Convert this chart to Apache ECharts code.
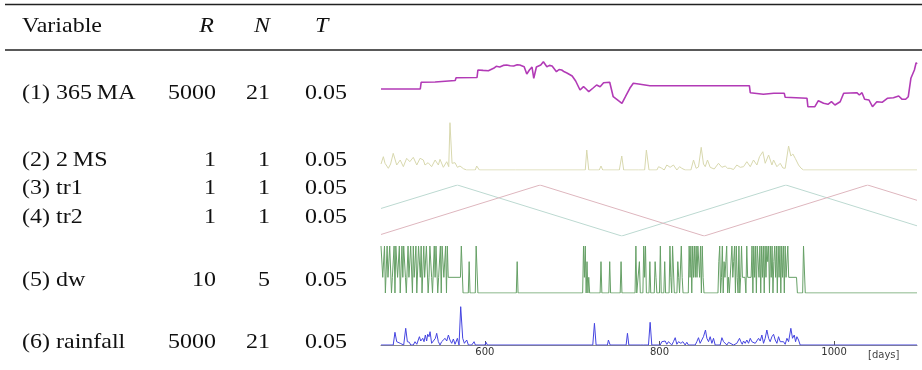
<!DOCTYPE html>
<html>
<head>
<meta charset="utf-8">
<title>Variables</title>
<script src="https://cdn.jsdelivr.net/npm/echarts@6/dist/echarts.min.js"></script>
<style>
  html, body { margin: 0; padding: 0; background: #fff; }
  #main { width: 922px; height: 370px; }
</style>
</head>
<body>
<div id="main"></div>
<script>
// table
const rowNames = ['(1) 365\u2009MA', '(2) 2\u2009MS', '(3) tr1', '(4) tr2', '(5) dw', '(6) rainfall']
const rowR = ['5000', '1', '1', '1', '10', '5000']
const rowN = ['21', '1', '1', '1', '5', '21']
const rowT = ['0.05', '0.05', '0.05', '0.05', '0.05', '0.05']
const dayTicks = [600, 800, 1000]

// series, [day, value]
const ma365 = [[481,21],[526,21],[527,27.7],[543,28],[545,29.3],[566,29.5],[567,32.3],[591,32.5],[592,40],
  [598,39.6],[604,39.3],[610,41.7],[613,43.7],[617,43],[621,44.6],[625,45],[629,44.2],[633,44],[637,45.2],
  [640,45],[645,43.3],[648,36],[651,40],[654,43],[656,31.7],[659,43],[664,45],[667,48.3],[671,43.3],
  [674,44.6],[677,44],[682,38.3],[685,40.5],[688,40],[691,38.2],[694,37],[700,34],[704,29],[709,20],
  [713,23.3],[716,21],[719,18.3],[724,22],[728,25],[732,23.3],[736,27.3],[743,27.7],[747,13.3],[753,9.3],
  [757,6.7],[761,13.3],[766,21.7],[770,26.7],[776,26],[789,24.3],[903,24.3],[904,17.3],[919,15.7],
  [931,16.7],[943,16.7],[944,12.7],[969,11.7],[970,3.3],[978,3.3],[982,9.3],[988,6.7],[993,5.7],
  [997,8.3],[1001,5],[1007,8.3],[1011,16.7],[1026,17.3],[1029,15],[1032,17.3],[1035,10.7],[1040,10],
  [1044,3.3],[1049,8.3],[1055,7.7],[1061,11.7],[1068,12.3],[1074,14],[1078,10.7],[1082,10.7],[1085,13.3],
  [1088,31.7],[1092,40],[1094,47.3],[1095,46]]

const ms2 = [[481,6],[483.7,13.3],[485.6,6.7],[489.4,1.7],[492,6],[495,16.7],[499,5],[503,10],[506.6,3.3],
  [510.4,11.7],[514,8.3],[518,12.7],[522,5],[525.7,11.7],[529.5,10],[531.4,5],[535,7.3],[539,3.3],[543,10],
  [546.7,5],[548.6,10.7],[552.4,2.7],[556.3,8.3],[558.6,3.3],[560,47.3],[562.4,6.7],[565.8,7.3],[568.5,2.7],
  [571.5,4],[575.4,1.3],[579,0],[589,0],[590.6,4],[593.7,0],[635,0],[636,1],[637,0],[715,0],[716.7,20],
  [719,0],[731,0],[733,4],[735,0],[754,0],[756.8,14],[759,0],[772,0],[774,1.7],[776,0],[783,0],[785,20],
  [788,0],[797,0],[799,3.3],[802.7,1.7],[805.4,0],[808.4,5],[812.2,2.7],[816,5],[819.9,0],[823,3.3],
  [825.6,1.7],[829.4,0],[836,0],[839,10],[842,1.7],[844.7,3],[847.8,22.7],[850.4,6],[852.4,3.3],[855,10],
  [858.1,2.7],[862.7,1],[867.6,6.7],[871.5,2.7],[875.3,4],[878,1.7],[881,1.7],[884.8,0.5],[888.6,5],
  [892.5,2.7],[896.3,3.3],[900.1,8.3],[904,3.3],[907.7,10],[911.6,5],[914.6,13.3],[918.4,18.3],[921.1,6.7],
  [925,15],[928.8,5],[930.7,10],[934.5,3.3],[938.3,6.7],[941.4,2],[944,1.7],[947.9,24],[950.5,14],
  [952.8,16],[955.5,11.7],[959.3,5],[962,2],[965,0],[1095,0]]

const tr1 = [[481,0.54],[568.5,1],[756.8,0],[944.8,1],[1095,0.2]]
const tr2 = [[481,0.03],[663.2,1],[851.2,0],[1038.4,1],[1095,0.7]]

const dw = [[481,3],[482,3],[483,1],[484,1],[485,3],[486,0],[487,0],[488,3],[489,1],[490,1],[491,3],[492,3],
  [493,0],[494,1],[495,1],[496,3],[497,0],[498,3],[499,3],[500,1],[501,1],[502,3],[503,0],[504,0],[505,3],
  [506,1],[507,3],[508,3],[509,1],[510,0],[511,0],[512,3],[513,1],[514,1],[515,3],[516,3],[517,0],[518,3],
  [519,1],[520,1],[521,3],[522,0],[523,0],[524,3],[525,3],[526,1],[527,3],[528,0],[529,0],[530,3],[531,1],
  [532,1],[533,3],[534,3],[535,0],[536,1],[537,3],[538,3],[539,1],[540,0],[541,0],[542,3],[543,1],[544,3],
  [545,3],[546,0],[547,1],[548,1],[549,3],[550,0],[551,3],[552,3],[553,1],[554,1],[555,3],[556,0],[557,3],
  [558,1],[572,1],[573,3],[574,3],[575,0],[581,0],[582,2],[583,0],[589,0],[590,3],[591,3],[592,0],
  [636,0],[637,2],[638,0],[712,0],[713,3],[714,1],[715,3],[716,0],[717,2],[718,0],[719,1],[720,0],
  [732,0],[733,2],[734,0],[742,0],[743,2],[744,0],[755,0],[756,2],[757,0],[772,0],[773,3],[774,0],[776,0],
  [777,2],[778,0],[781,0],[782,3],[783,1],[784,3],[785,0],[788,0],[789,2],[790,0],[794,0],[795,2],[796,1],
  [797,0],[800,0],[801,3],[802,0],[805,0],[806,2],[807,0],[811,0],[812,3],[813,1],[814,0],[815,3],[816,3],
  [817,0],[820,0],[821,2],[822,1],[823,0],[825,3],[826,1],[827,0],[833,0],[834,3],[835,1],[836,3],[837,0],
  [838,3],[839,1],[840,3],[841,1],[842,3],[843,1],[844,3],[845,3],[846,1],[847,3],[848,0],[849,3],[850,1],
  [851,0],[867,0],[868,2],[869,3],[870,0],[871,1],[872,3],[873,0],[874,2],[875,1],[876,2],[877,3],[878,0],
  [879,1],[880,0],[882,0],[883,3],[884,1],[885,2],[886,3],[887,0],[888,3],[889,1],[890,0],[891,3],[892,0],
  [893,1],[894,3],[895,1],[898,1],[899,0],[900,3],[901,1],[905,1],[906,3],[907,0],[908,3],[909,1],[910,3],
  [911,0],[912,3],[913,3],[914,1],[915,3],[916,0],[917,3],[918,1],[919,3],[920,0],[921,3],[922,1],[923,3],
  [924,2],[925,3],[926,0],[927,3],[928,1],[929,3],[930,0],[931,2],[932,3],[933,1],[934,3],[935,0],[936,3],
  [937,1],[938,3],[939,0],[940,3],[941,1],[942,3],[943,0],[944,3],[945,1],[946,1],[947,3],[948,1],[957,1],
  [958,0],[964,0],[965,3],[966,3],[967,0],[1095,0]]

const rainfall = [[481,0],[495,0],[497,12.7],[499,3.3],[501,5],[503,1.7],[505,3.3],[507,0],[509.3,16.7],
  [511.2,3.3],[513.5,2.7],[515,0],[518,0],[520,3.3],[522,0.7],[525,8.3],[526.5,4],[528.8,6.7],[530.3,3.3],
  [531.8,10],[533.3,4],[534.5,10.7],[536,8.3],[537.2,13.3],[539,1.7],[541,0],[543.3,6.7],[544.8,11.7],
  [546.7,3.3],[548.6,0],[550.5,3.3],[552.4,5],[554.4,6.7],[556.3,4],[558.2,10],[560,5],[562,1.7],[563.9,6],
  [565.8,0.7],[568.5,6.7],[570.4,0],[572.3,38.3],[574.6,6.7],[576.5,1.7],[579.2,5],[581.1,0],[583,1.7],
  [584.9,0],[587.6,3.3],[589.1,0],[600,0],[601.3,2.7],[602.9,0],[723.6,0],[725.5,21.7],[727.4,0],[740.4,0],
  [741.5,5],[743.5,0],[761.8,0],[763.3,11.7],[764.9,0],[778.6,0],[779.8,1.7],[781.7,0],[787.4,0],
  [789.3,22.7],[791.2,0],[800.8,0],[802.7,3.3],[804.6,1.7],[806.5,4],[808.4,0.7],[810.3,3.3],[814.1,0],
  [816,3.3],[818,7.3],[819.9,0.7],[821.8,3.3],[824.5,1.7],[826.8,3.3],[829.4,0],[831.3,2.7],[833.2,0],
  [840.9,0],[842.8,3.3],[844.7,7.3],[846.6,1.7],[848.5,0],[850.4,8.3],[852.7,15],[854.3,6.7],[856.2,3.3],
  [858.1,8.3],[860,1.7],[861.9,6.7],[863.8,0],[869.5,0],[871.5,7.3],[873.4,3.3],[875.3,5],[877.2,0],
  [879.1,2.7],[881,0.7],[884.8,0],[888.6,1.7],[891.7,6.7],[893.2,3.3],[894.8,0.7],[896.3,4],[898.2,1.7],
  [900.1,5],[902,1.7],[904,6.7],[905.8,3.3],[907.7,5],[909.7,1.7],[911.6,3.3],[913.5,6.7],[915.4,4],
  [917.3,10],[919.2,1.7],[921.1,6.7],[923,15],[925,6.7],[926.8,3.3],[928.8,8.3],[930.7,10.7],[932.6,5],
  [934.5,1.7],[936.4,8.3],[938.3,3.3],[940.2,1.7],[942.1,3.3],[944,0.7],[946,6.7],[947.9,3.3],[950.5,16.7],
  [952.4,6.7],[954.4,10],[955.9,3.3],[957.4,8.3],[959.3,5],[961.2,0],[1095,0]]

const chartDom = document.getElementById('main')
const myChart = echarts.init(chartDom, null, { renderer: 'canvas' })

// panel rows: top, height, y max
const panels = [
  { top: 50, height: 60, max: 60 },
  { top: 120, height: 50, max: 50 },
  { top: 185, height: 51, max: 1 },
  { top: 246, height: 47, max: 3 },
  { top: 305, height: 40, max: 40 }
]
const headY = 26
const rowY = [93.7, 160.4, 188.7, 217, 280.4, 342]

const serif = '"Liberation Serif", "Times New Roman", serif'
const texts = []
function cell (text, x, y, align, italic) {
  texts.push({
    type: 'text',
    silent: true,
    x: x,
    y: y,
    scaleY: 0.88,
    style: {
      text: text, x: 0, y: 0,
      font: (italic ? 'italic ' : '') + '24px ' + serif,
      fill: '#111',
      align: align, textAlign: align,
      verticalAlign: 'middle', textVerticalAlign: 'middle'
    }
  })
}
cell('Variable', 22, headY, 'left')
cell('R', 214, headY, 'right', true)
cell('N', 270, headY, 'right', true)
cell('T', 315, headY, 'left', true)
rowNames.forEach((name, i) => {
  cell(name, 22, rowY[i], 'left')
  cell(rowR[i], 216, rowY[i], 'right')
  cell(rowN[i], 270, rowY[i], 'right')
  cell(rowT[i], 305, rowY[i], 'left')
})

let option = {
  animation: false,
  grid: panels.map(p => ({ left: 381, width: 536, top: p.top, height: p.height })),
  xAxis: panels.map((p, i) => {
    const last = i === panels.length - 1
    return {
      type: 'value',
      gridIndex: i,
      min: 481,
      max: 1095,
      show: last,
      splitLine: { show: false },
      axisLine: { show: last, lineStyle: { color: '#8a8a8a', width: 1.2 } },
      axisTick: {
        show: last, inside: true, length: 4, customValues: dayTicks,
        lineStyle: { color: '#555', width: 1 }
      },
      axisLabel: {
        show: last, customValues: dayTicks, margin: 2,
        formatter: v => String(v),
        fontFamily: 'DejaVu Sans', fontSize: 10, color: '#333'
      }
    }
  }),
  yAxis: panels.map((p, i) => ({
    type: 'value', gridIndex: i, min: 0, max: p.max, show: false, splitLine: { show: false }
  })),
  series: [
    { name: '365 MA', data: ma365, idx: 0, color: '#b23ab6', width: 1.6 },
    { name: '2 MS', data: ms2, idx: 1, color: '#d8d8ae', width: 1 },
    { name: 'tr1', data: tr1, idx: 2, color: '#bcd9d1', width: 1 },
    { name: 'tr2', data: tr2, idx: 2, color: '#deb6be', width: 1 },
    { name: 'dw', data: dw, idx: 3, color: '#66a066', width: 1 },
    { name: 'rainfall', data: rainfall, idx: 4, color: '#4444e0', width: 1 }
  ].map(s => ({
    name: s.name,
    type: 'line',
    xAxisIndex: s.idx,
    yAxisIndex: s.idx,
    data: s.data,
    symbol: 'none',
    sampling: null,
    lineStyle: { color: s.color, width: s.width },
    itemStyle: { color: s.color }
  })),
  graphic: [
    { type: 'line', silent: true, shape: { x1: 5, y1: 4.5, x2: 922, y2: 4.5 }, style: { stroke: '#222', lineWidth: 1.3 } },
    { type: 'line', silent: true, shape: { x1: 5, y1: 50, x2: 922, y2: 50 }, style: { stroke: '#222', lineWidth: 1.3 } },
    {
      type: 'text', silent: true,
      style: {
        text: '[days]', x: 868, y: 355, font: '10px "DejaVu Sans"', fill: '#444',
        align: 'left', textAlign: 'left', verticalAlign: 'middle', textVerticalAlign: 'middle'
      }
    }
  ].concat(texts)
}

option && myChart.setOption(option)
</script>
</body>
</html>
